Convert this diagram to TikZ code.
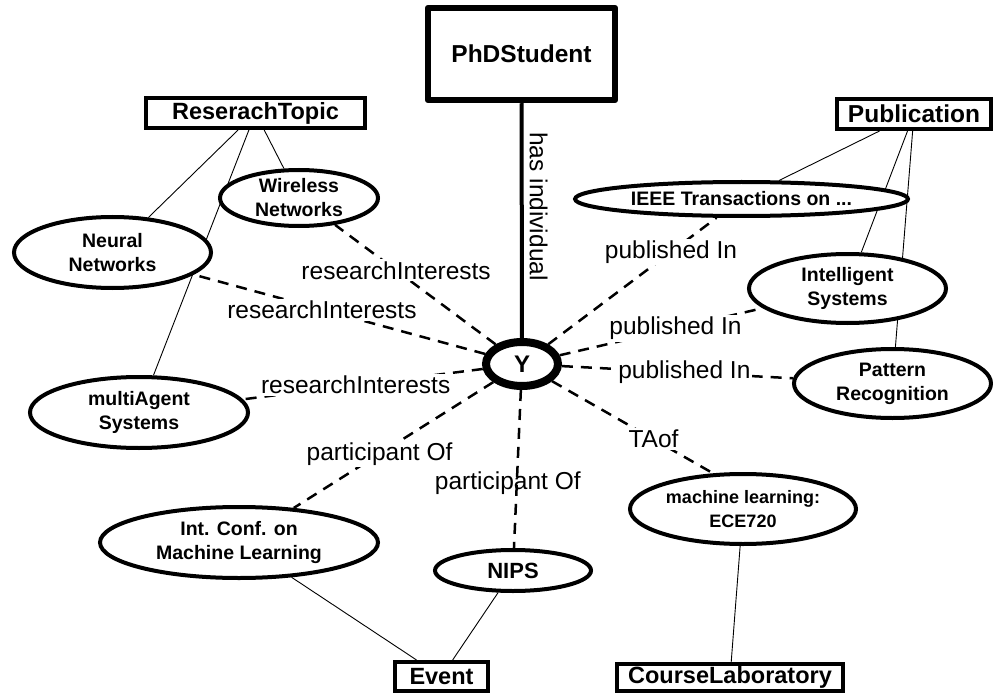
\documentclass[tikz,border=0pt]{standalone}
\usepackage{fontspec}
\setmainfont{Liberation Sans}
\usetikzlibrary{shapes.geometric}
\pgfdeclarelayer{background}
\pgfsetlayers{background,main}

\tikzset{
  classbox/.style={draw, line width=4pt, fill=white, inner sep=0pt,
    font=\fontsize{23.5}{28}\selectfont\bfseries},
  inst/.style={ellipse, draw, line width=4pt, fill=white, inner sep=0pt,
    align=center, font=\fontsize{19.5}{24}\selectfont\bfseries},
  rel/.style={dash pattern=on 11pt off 8pt, line width=2.5pt},
  isa/.style={line width=0.9pt},
  lbl/.style={fill=white, inner sep=2pt, font=\fontsize{24.5}{29}\selectfont},
}

\begin{document}
\begin{tikzpicture}[x=1pt,y=-1pt]
\useasboundingbox (0,0) rectangle (993,695);

% central individual and its class
\node[classbox, line width=6.5pt, line join=round, minimum width=187pt,
  minimum height=92pt, font=\fontsize{24.5}{29}\selectfont\bfseries]
  (phd) at (521.5,54) {PhDStudent};
\node[ellipse, draw, fill=white, line width=8pt, minimum width=72pt,
  minimum height=44pt, inner sep=0pt, font=\fontsize{24}{28}\selectfont\bfseries]
  (y) at (522,364) {Y};

% classes
\node[classbox, minimum width=219pt, minimum height=30pt] (rt) at (255.5,113) {ReserachTopic};
\node[classbox, minimum width=154pt, minimum height=30pt,
  font=\fontsize{24.5}{29}\selectfont\bfseries] (pub) at (914,114) {Publication};
\node[classbox, minimum width=93pt, minimum height=29pt] (ev) at (441.5,676.5) {Event};
\node[classbox, minimum width=226pt, minimum height=27pt] (cl) at (730,677.5) {CourseLaboratory};

% research topics
\node[inst, minimum width=158pt, minimum height=56pt] (wl) at (299,198) {Wireless\\Networks};
\node[inst, minimum width=197pt, minimum height=71pt] (nn) at (112.5,252.5) {Neural\\Networks};
\node[inst, minimum width=218pt, minimum height=71pt] (ma) at (139,412.5) {multiAgent\\Systems};

% events
\node[inst, minimum width=278pt, minimum height=71pt] (icml) at (239,542.5) {Int. Conf. on\\Machine Learning};
\node[inst, minimum width=156pt, minimum height=41pt,
  font=\fontsize{22}{26}\selectfont\bfseries] (nips) at (513,570.5) {NIPS};

% course
\node[inst, minimum width=226pt, minimum height=70pt,
  font=\fontsize{18}{24}\selectfont\bfseries] (ece) at (743,509) {machine learning:\\ECE720};

% publications
\node[inst, minimum width=333pt, minimum height=34pt] (ieee) at (741.5,199) {IEEE Transactions on ...};
\node[inst, minimum width=197pt, minimum height=69pt] (is) at (847.5,288.5) {Intelligent\\Systems};
\node[inst, minimum width=197pt, minimum height=69pt] (pr) at (892.5,383.5) {Pattern\\Recognition};

\begin{pgfonlayer}{background}
  % instance-of links
  \draw[isa] (rt) -- (wl);
  \draw[isa] (rt) -- (nn);
  \draw[isa] (rt) -- (ma);
  \draw[isa] (pub) -- (ieee);
  \draw[isa] (pub) -- (is);
  \draw[isa] (pub) -- (pr);
  \draw[isa] (icml) -- (ev);
  \draw[isa] (nips) -- (ev);
  \draw[isa] (ece) -- (cl);

  % type link
  \draw[line width=4pt] (phd) -- (y)
    node[pos=0.44, rotate=-90, anchor=south, inner sep=6pt,
      font=\fontsize{24.5}{29}\selectfont] {has individual};

  % relations of the individual
  \draw[rel] (y) -- (wl) node[lbl, pos=0.62] {researchInterests};
  \draw[rel] (y) -- (nn) node[lbl, pos=0.56] {researchInterests};
  \draw[rel] (y) -- (ma) node[lbl, pos=0.53] {researchInterests};
  \draw[rel] (y) -- (icml) node[lbl, pos=0.57] {participant Of};
  \draw[rel] (y) -- (nips) node[lbl, fill=none, pos=0.59, xshift=-9pt] {participant Of};
  \draw[rel] (y) -- (ieee) node[lbl, pos=0.73] {published In};
  \draw[rel] (y) -- (is) node[lbl, pos=0.57] {published In};
  \draw[rel] (y) -- (pr) node[lbl, pos=0.53] {published In};
  \draw[rel] (y) -- (ece.130) node[lbl, pos=0.63] {TAof};
\end{pgfonlayer}
\end{tikzpicture}
\end{document}
